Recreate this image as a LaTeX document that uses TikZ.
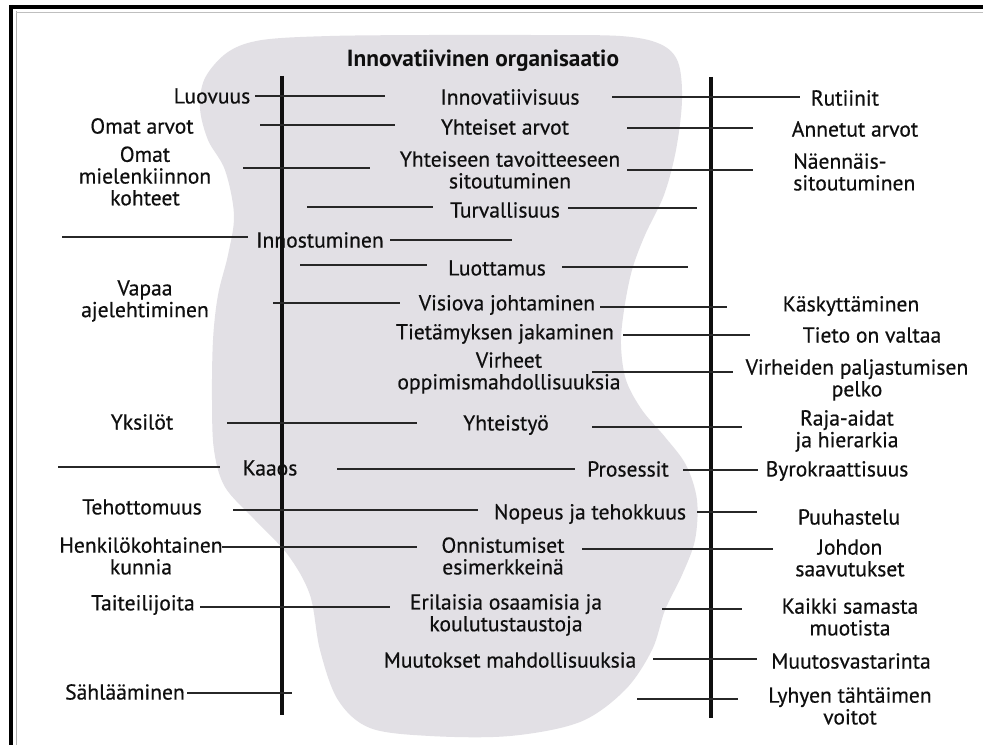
\documentclass[tikz,border=0pt]{standalone}
\usepackage{fontspec}
\setmainfont{PT Sans}
\newfontfamily\lblfont{PT Sans}[FakeBold=0.5]
\newfontfamily\headfont{PT Sans Bold}
\definecolor{ink}{RGB}{15,15,15}
\definecolor{blobfill}{RGB}{226,224,229}
\begin{document}
\begin{tikzpicture}[x=0.75pt,y=-0.75pt,
  lbl/.style={inner sep=0pt, text=ink, font=\lblfont\fontsize{16.2}{16.3}\selectfont, align=center},
  conn/.style={draw=ink!90, line width=0.9pt},
  axis/.style={draw=ink, line width=2.3pt},
  frame/.style={draw=black, line width=2.4pt},
]
\useasboundingbox (0,0) rectangle (983,745);
\fill[white] (0,0) rectangle (983,745);

% grey region of the innovative organisation
\fill[blobfill] plot[smooth cycle, tension=0.55] coordinates {
  (262,40) (330,36) (430,35) (530,35) (620,36) (660,44) (678,62) (682,100)
  (676,150) (664,195) (645,235) (632,270) (624,310) (621,345) (626,380)
  (642,410) (665,437) (686,465) (697,500) (695,540) (682,575) (665,610)
  (652,650) (625,690) (580,722) (510,736) (430,736) (370,728) (338,700)
  (320,650) (310,595) (288,555) (255,520) (225,487) (214,450) (212,400)
  (213,340) (218,295) (228,255) (234,215) (225,170) (208,140) (200,108)
  (205,78) (228,52)};

% page frame
\draw[frame] (11,5) -- (11,745);
\draw[frame] (10,7) -- (983,7);
\draw[gray!60, line width=0.6pt] (16,11) -- (16,745);
\draw[gray!50, line width=0.5pt] (16,12) -- (983,12);

% the two vertical axes
\draw[axis] (282,76) coordinate (la) -- (282,715) coordinate (lb);
\draw[axis] (711,77) coordinate (ra) -- (711,718) coordinate (rb);

% title
\node[lbl, font=\headfont\fontsize{17.5}{18}\selectfont] (title) at (483,61) {Innovatiivinen organisaatio};

% left column
\node[lbl] (luovuus) at (212,96) {Luovuus};
\node[lbl] (omatarvot) at (142,126) {Omat arvot};
\node[lbl] (mielen) at (145,176) {Omat\\mielenkiinnon\\kohteet};
\node[lbl] (vapaa) at (145,301) {Vapaa\\ajelehtiminen};
\node[lbl] (yksilot) at (142,422) {Yksilöt};
\node[lbl] (tehott) at (142,507) {Tehottomuus};
\node[lbl] (henk) at (141,556) {Henkilökohtainen\\kunnia};
\node[lbl] (taiteil) at (143,605) {Taiteilijoita};
\node[lbl] (sahl) at (125,692) {Sählääminen};

% middle column
\node[lbl] (innov) at (510,97) {Innovatiivisuus};
\node[lbl] (yhtarvot) at (505,127) {Yhteiset arvot};
\node[lbl] (yhtsit) at (510,170) {Yhteiseen tavoitteeseen\\sitoutuminen};
\node[lbl] (turva) at (505,210) {Turvallisuus};
\node[lbl] (innost) at (320,240) {Innostuminen};
\node[lbl] (luott) at (497,268) {Luottamus};
\node[lbl] (visio) at (507,305) {Visiova johtaminen};
\node[lbl] (tietam) at (505,334) {Tietämyksen jakaminen};
\node[lbl] (virheet) at (509,373) {Virheet\\oppimismahdollisuuksia};
\node[lbl] (yhteis) at (506,425) {Yhteistyö};
\node[lbl] (kaaos) at (270,468) {Kaaos};
\node[lbl] (prosess) at (628,469) {Prosessit};
\node[lbl] (nopeus) at (590,514) {Nopeus ja tehokkuus};
\node[lbl] (onnist) at (503,556) {Onnistumiset\\esimerkkeinä};
\node[lbl] (erilais) at (506,615) {Erilaisia osaamisia ja\\koulutustaustoja};
\node[lbl] (muutok) at (510,660) {Muutokset mahdollisuuksia};

% right column
\node[lbl] (rutiinit) at (845,98) {Rutiinit};
\node[lbl] (annetut) at (855,129) {Annetut arvot};
\node[lbl, anchor=west, align=left] (naenn) at (793,172) {Näennäis-\\sitoutuminen};
\node[lbl] (kasky) at (851,306) {Käskyttäminen};
\node[lbl] (tieto) at (872,335) {Tieto on valtaa};
\node[lbl] (pelko) at (857,380) {Virheiden paljastumisen\\pelko};
\node[lbl] (raja) at (847,431) {Raja-aidat\\ja hierarkia};
\node[lbl] (byro) at (837,471) {Byrokraattisuus};
\node[lbl] (puuha) at (849,517) {Puuhastelu};
\node[lbl] (johdon) at (850,558) {Johdon\\saavutukset};
\node[lbl] (kaikki) at (850,617) {Kaikki samasta\\muotista};
\node[lbl] (muutosv) at (851,661) {Muutosvastarinta};
\node[lbl] (lyhyen) at (850,706) {Lyhyen tähtäimen\\voitot};

% horizontal connectors
\draw[conn] (255,96) -- (385,96);
\draw[conn] (612,97) -- (800,97);
\draw[conn] (260,125) -- (395,125);
\draw[conn] (627,128) -- (753,128);
\draw[conn] (243,168) -- (370,168);
\draw[conn] (627,170) -- (753,170);
\draw[conn] (307,207) -- (433,207);
\draw[conn] (568,208) -- (697,208);
\draw[conn] (62,237) -- (248,237);
\draw[conn] (390,240) -- (512,240);
\draw[conn] (300,265) -- (427,265);
\draw[conn] (562,267) -- (688,267);
\draw[conn] (273,303) -- (400,303);
\draw[conn] (600,307) -- (727,307);
\draw[conn] (623,335) -- (750,335);
\draw[conn] (592,372) -- (733,372);
\draw[conn] (227,423) -- (417,423);
\draw[conn] (592,427) -- (742,427);
\draw[conn] (58,467) -- (220,467);
\draw[conn] (337,469) -- (575,469);
\draw[conn] (683,470) -- (758,470);
\draw[conn] (233,510) -- (478,510);
\draw[conn] (697,512) -- (757,512);
\draw[conn] (222,547) -- (417,547);
\draw[conn] (582,549) -- (773,549);
\draw[conn] (200,607) -- (390,607);
\draw[conn] (662,609) -- (742,609);
\draw[conn] (653,659) -- (757,659);
\draw[conn] (187,693) -- (292,693);
\draw[conn] (637,699) -- (738,699);
\end{tikzpicture}
\end{document}
